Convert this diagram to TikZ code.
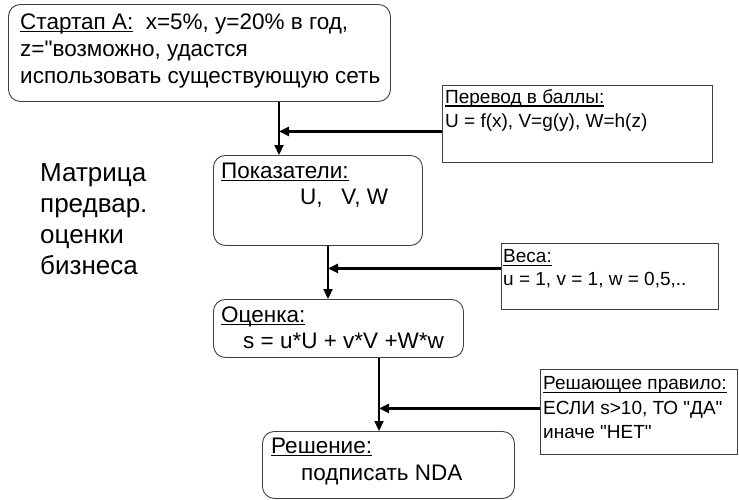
\documentclass[tikz,border=0pt]{standalone}
\usepackage{fontspec}
\setmainfont{Liberation Sans}[Ligatures=TeXOff]
\usepackage{tikz}
\usetikzlibrary{arrows.meta}
\newcommand\hdr[1]{\setbox0\hbox{#1}\rlap{\rule[-3pt]{\wd0}{1.2pt}}\box0}
\tikzset{
  rbox/.style={draw=black!75, line width=0.9pt, rounded corners=12pt, anchor=north west, inner sep=0pt},
  sbox/.style={draw=black!75, line width=0.9pt, anchor=north west, inner sep=0pt},
  flow/.style={line width=2.2pt, -{Triangle[length=10pt,width=9pt]}},
  btxt/.style={anchor=north west, inner sep=0pt, align=left, font=\fontsize{22.5}{26.5}\selectfont},
  stxt/.style={anchor=north west, inner sep=0pt, align=left, font=\fontsize{19}{24}\selectfont},
}
\begin{document}
\begin{tikzpicture}[x=1pt,y=-1pt]
\useasboundingbox (0,0) rectangle (739,499);
\node[rbox, minimum width=382pt, minimum height=97pt] (start) at (8,4) {};
\node[rbox, minimum width=209pt, minimum height=90pt] (ind) at (213,155) {};
\node[rbox, minimum width=250pt, minimum height=58pt] (est) at (213,299) {};
\node[rbox, minimum width=252pt, minimum height=67pt] (dec) at (262,431) {};
\node[sbox, minimum width=270pt, minimum height=77pt] (conv) at (442,85) {};
\node[sbox, minimum width=217pt, minimum height=66pt] (wts) at (501,243) {};
\node[sbox, minimum width=197pt, minimum height=85pt] (rule) at (540,369) {};
\node[btxt, font=\fontsize{22.5}{27}\selectfont] (tstart) at (20,13.5) {\hdr{Стартап А:}\ \ x=5\%, y=20\% в год,\\z="возможно, удастся\\использовать существующую сеть};
\node[btxt] (tind) at (221,162.5) {\hdr{Показатели:}\\\hspace*{79pt}U,\ \ \ V, W};
\node[btxt] (test) at (221,306.5) {\hdr{Оценка:}\\\hspace*{22pt}s = u*U + v*V +W*w};
\node[btxt, font=\fontsize{22.5}{27}\selectfont] (tdec) at (271,437.5) {\hdr{Решение:}\\\hspace*{30pt}подписать NDA};
\node[stxt] (tconv) at (445,89.5) {\hdr{Перевод в баллы:}\\U = f(x), V=g(y), W=h(z)};
\node[stxt, font=\fontsize{19}{22.5}\selectfont] (twts) at (503,249.5) {\hdr{Веса:}\\u = 1, v = 1, w = 0,5,..};
\node[stxt, font=\fontsize{19}{24.5}\selectfont] (trule) at (543,376.5) {\hdr{Решающее правило:}\\ЕСЛИ s>10, ТО "ДА"\\иначе "НЕТ"};
\node[anchor=north west, inner sep=0pt, align=left, font=\fontsize{26}{31}\selectfont] (title) at (40,163) {Матрица\\предвар.\\оценки\\бизнеса};
\coordinate (m1) at (279,0);
\coordinate (m2) at (328,0);
\coordinate (m3) at (379,0);
\draw[flow] (start.south -| m1) -- (ind.north -| m1);
\draw[flow] (ind.south -| m2) -- (est.north -| m2);
\draw[flow] (est.south -| m3) -- (dec.north -| m3);
\draw[flow] ([yshift=-7.5pt]conv.west) -- ([yshift=-7.5pt]conv.west -| m1);
\draw[flow] ([yshift=8pt]wts.west) -- ([yshift=8pt]wts.west -| m2);
\draw[flow] ([yshift=3.5pt]rule.west) -- ([yshift=3.5pt]rule.west -| m3);
\end{tikzpicture}
\end{document}
